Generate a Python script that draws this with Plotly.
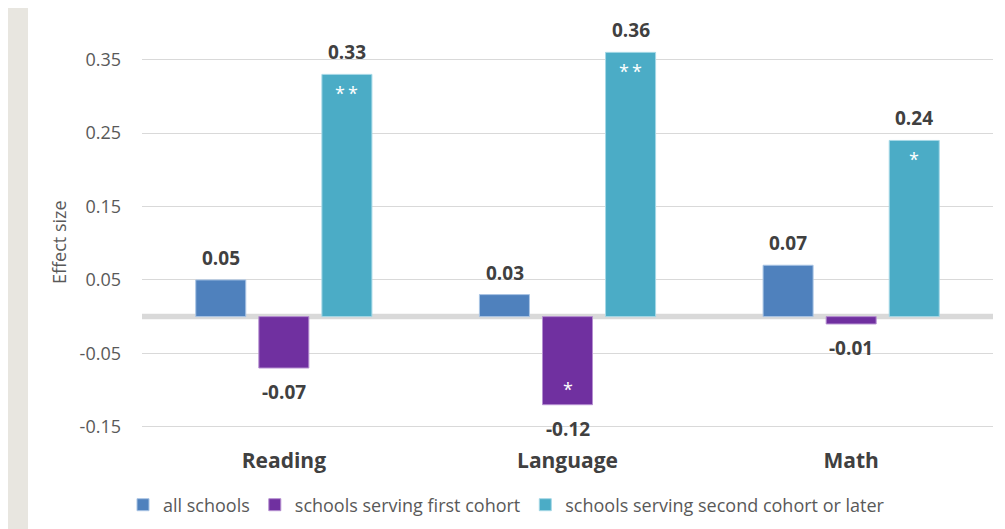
import plotly.graph_objects as go

categories = ["Reading", "Language", "Math"]
series_names = ["all schools", "schools serving first cohort", "schools serving second cohort or later"]
all_schools = [0.05, 0.03, 0.07]
first_cohort = [-0.07, -0.12, -0.01]
second_cohort = [0.33, 0.36, 0.24]
stars_all = ["", "", ""]
stars_first = ["", "*", ""]
stars_second = ["*\u2009*", "*\u2009*", "*"]
tick_vals = [-0.15, -0.05, 0.05, 0.15, 0.25, 0.35]
tick_text = ["-0.15", "-0.05", "0.05", "0.15", "0.25", "0.35"]

colors = ["#4F81BD", "#7030A0", "#4BACC6"]
edge = ["#A9C4E4", "#B58FD0", "#A5D8E6"]
series = [all_schools, first_cohort, second_cohort]
stars = [stars_all, stars_first, stars_second]

# page body has an 8px margin; figure is sized/offset to compensate
W, H = 997, 521
L, R, T, B = 134, 12, 15, 87
PW = W - L - R
PH = H - T - B

fig = go.Figure()
for name, vals, c, e in zip(series_names, series, colors, edge):
    fig.add_trace(go.Bar(x=categories, y=vals, name=name,
                         marker=dict(color=c, line=dict(color=e, width=1))))

offsets = [-63, 0, 63]
annotations = []
for vals, st, off in zip(series, stars, offsets):
    for cat, v, s in zip(categories, vals, st):
        annotations.append(dict(x=cat, y=v, xref="x", yref="y", text=f"{v:.2f}",
                                showarrow=False, xshift=off,
                                yshift=22 if v >= 0 else -24,
                                font=dict(family="Open Sans", size=19, color="#404040", weight="bold")))
        if s:
            annotations.append(dict(x=cat, y=v, xref="x", yref="y", text=s,
                                    showarrow=False, xshift=off,
                                    yshift=-19 if v >= 0 else 16,
                                    font=dict(family="Open Sans", size=18, color="white")))

annotations.append(dict(x=(51 - L) / PW, y=1 - (234 - T) / PH, xref="paper", yref="paper",
                        xanchor="center", yanchor="middle",
                        text="Effect size", textangle=-90, showarrow=False,
                        font=dict(family="Open Sans", size=18, color="#595959")))

shapes = [
    dict(type="rect", xref="paper", yref="paper", x0=-L / PW, x1=(20 - L) / PW,
         y0=-B / PH, y1=1 + T / PH, fillcolor="#E8E6E0", line=dict(width=0), layer="below"),
    dict(type="line", xref="paper", yref="y", x0=0, x1=1, y0=0, y1=0,
         line=dict(color="#D9D9D9", width=5.5), layer="below"),
]

fig.update_layout(
    width=W, height=H,
    margin=dict(l=L, r=R, t=T, b=B),
    paper_bgcolor="white", plot_bgcolor="white",
    barmode="group", bargap=0.333, bargroupgap=0.207,
    showlegend=True,
    legend=dict(orientation="h", x=0.5, xref="container", xanchor="center",
                y=1 - 497 / H, yref="container", yanchor="middle",
                font=dict(family="Open Sans", size=18, color="#595959"),
                traceorder="normal"),
    annotations=annotations,
    shapes=shapes,
    xaxis=dict(showgrid=False, zeroline=False, showline=False, ticks="",
               tickfont=dict(family="Open Sans", size=21, color="#404040", weight="bold"),
               ticklabelstandoff=4),
    yaxis=dict(range=[-0.1708, 0.40], tickvals=tick_vals, ticktext=tick_text,
               showgrid=True, gridcolor="#D9D9D9", gridwidth=1, zeroline=False,
               showline=False, ticks="", ticklabelstandoff=20,
               tickfont=dict(family="Open Sans", size=18, color="#595959")),
)

fig.write_html("out.html")
